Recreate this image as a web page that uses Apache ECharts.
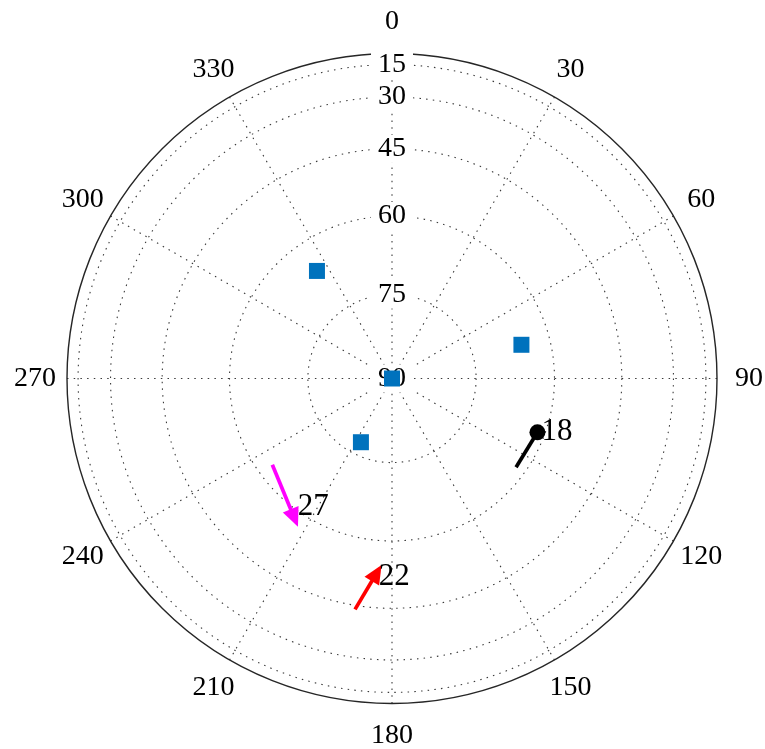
<!DOCTYPE html>
<html>
<head>
<meta charset="utf-8">
<script src="https://cdn.jsdelivr.net/npm/echarts@6/dist/echarts.min.js"></script>
<style>
  html, body { margin: 0; padding: 0; background: #ffffff; }
  #chart { width: 765px; height: 749px; }
</style>
</head>
<body>
<div id="chart"></div>
<script>
// Sky plot: azimuth runs clockwise from north, elevation rings shrink towards 90° at the centre.
const ringElevations = [15, 30, 45, 60, 75, 90];
const azimuthStep = 30;

// Satellites drawn as squares
const squareAzimuth = [325.1, 75.4, 0, 206.0];
const squareElevation = [66.2, 65.7, 90, 77.4];

// Satellite tracks (start -> current position)
const trackIds = ['18', '27', '22'];
const trackStartAz = [125.6, 234.2, 189.1];
const trackStartEl = [62.0, 63.0, 44.0];
const trackEndAz = [110.3, 215.0, 184.5];
const trackEndEl = [61.5, 58.4, 53.1];
const trackColors = ['#000000', '#ff00ff', '#ff0000'];
const trackMarkers = ['circle', 'triangle', 'triangle'];
const trackLabelOffsets = [[3.5, 0], [3, -11], [1.5, 4]];

const FONT = '"Liberation Serif", "DejaVu Serif", serif';
const FONT_SIZE = 28;
const GRID = { color: '#3a3a3a', width: 1.1, type: [1.5, 5.2] };

// Elevation maps to radius through its cosine (horizon = 1, zenith = 0)
function rad(el) { return Math.cos(el * Math.PI / 180); }
function toEl(r) { return Math.round(Math.acos(Math.min(1, Math.max(0, r))) * 180 / Math.PI); }
function planar(el, az) {
  const r = rad(el), a = az * Math.PI / 180;
  return [r * Math.sin(a), r * Math.cos(a)];
}

const ringValues = ringElevations.map(rad);

// Azimuth labels: ECharts anchors them by a corner, so pad each one
// to bring its centre onto a circle just outside the plot.
// (Vertical padding of a rich token grows the line around the centred text,
// so it only moves the text by half of its amount.)
const AZ_MARGIN = -14;     // label anchor relative to the outer circle
const AZ_CENTRE_GAP = 32;  // wanted distance from outer circle to label centre
const azimuthRich = {};
for (let a = 0; a < 360; a += azimuthStep) {
  const t = a * Math.PI / 180;
  const ux = Math.sin(t), uy = -Math.cos(t);
  const d = AZ_CENTRE_GAP - AZ_MARGIN;
  const w = String(a).length * FONT_SIZE * 0.5, h = FONT_SIZE;
  const pad = [0, 0, 0, 0]; // top, right, bottom, left
  if (Math.abs(ux) >= 0.3) {
    const p = Math.max(0, d * Math.abs(ux) - w / 2);
    if (ux > 0) pad[3] = p; else pad[1] = p;
  }
  if (Math.abs(uy) >= 0.3) {
    const p = Math.max(0, 2 * d * Math.abs(uy) - h);
    if (uy > 0) pad[0] = p; else pad[2] = p;
  }
  azimuthRich['a' + a] = {
    fontFamily: FONT, fontSize: FONT_SIZE, lineHeight: FONT_SIZE,
    color: '#000', padding: pad
  };
}

const series = [];

series.push({
  type: 'scatter',
  coordinateSystem: 'polar',
  symbol: 'rect',
  symbolSize: 16,
  itemStyle: { color: '#0072BD', opacity: 1 },
  z: 4,
  data: squareAzimuth.map((az, i) => [rad(squareElevation[i]), az])
});

trackIds.forEach((id, i) => {
  const p1 = planar(trackStartEl[i], trackStartAz[i]);
  const p2 = planar(trackEndEl[i], trackEndAz[i]);
  const heading = Math.atan2(p2[1] - p1[1], p2[0] - p1[0]) * 180 / Math.PI;
  const isArrow = trackMarkers[i] === 'triangle';
  series.push({
    type: 'line',
    coordinateSystem: 'polar',
    z: 3,
    lineStyle: { color: trackColors[i], width: 3.7 },
    itemStyle: { color: trackColors[i], opacity: 1 },
    showSymbol: true,
    data: [
      { value: [rad(trackStartEl[i]), trackStartAz[i]], symbol: 'none' },
      {
        value: [rad(trackEndEl[i]), trackEndAz[i]],
        symbol: trackMarkers[i],
        symbolSize: isArrow ? [17, 19] : 16,
        symbolRotate: isArrow ? heading - 90 : 0
      }
    ]
  });
  series.push({
    type: 'scatter',
    coordinateSystem: 'polar',
    z: 5,
    symbolSize: 1,
    itemStyle: { color: 'rgba(0,0,0,0)', opacity: 1 },
    label: {
      show: true,
      position: 'right',
      distance: 0,
      offset: trackLabelOffsets[i],
      formatter: id,
      color: '#000000',
      fontFamily: FONT,
      fontSize: 31
    },
    data: [[rad(trackEndEl[i]), trackEndAz[i]]]
  });
});

const chart = echarts.init(document.getElementById('chart'), null, { renderer: 'canvas' });
chart.setOption({
  animation: false,
  backgroundColor: '#ffffff',
  polar: { center: [392, 378.5], radius: 325 },
  angleAxis: {
    type: 'value',
    min: 0,
    max: 360,
    interval: azimuthStep,
    startAngle: 90,
    clockwise: true,
    z: 0,
    axisLine: { show: true, lineStyle: { color: '#262626', width: 1.4 } },
    axisTick: { show: false },
    axisLabel: {
      margin: AZ_MARGIN,
      color: '#000',
      fontFamily: FONT,
      fontSize: FONT_SIZE,
      formatter: v => '{a' + v + '|' + v + '}',
      rich: azimuthRich
    },
    splitLine: { show: true, lineStyle: GRID }
  },
  radiusAxis: {
    type: 'value',
    min: 0,
    max: 1,
    z: 1,
    axisLine: { show: false },
    axisTick: { show: false, customValues: ringValues },
    axisLabel: {
      show: true,
      customValues: ringValues,
      margin: 0,
      align: 'center',
      verticalAlign: 'middle',
      color: '#000',
      fontFamily: FONT,
      fontSize: FONT_SIZE,
      backgroundColor: '#ffffff',
      padding: [0, 7],
      formatter: v => String(toEl(v))
    },
    splitLine: { show: true, lineStyle: GRID }
  },
  series: series
});
</script>
</body>
</html>
